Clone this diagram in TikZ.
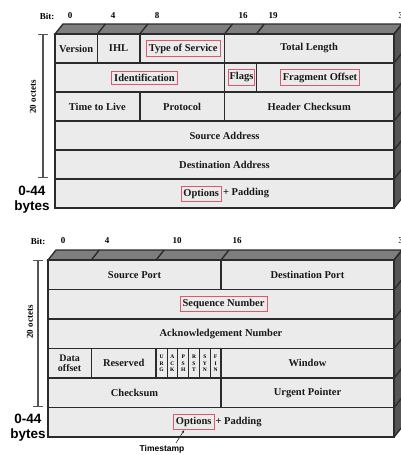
\documentclass[tikz,border=0pt]{standalone}
\usepackage{fontspec}
\setmainfont{Liberation Serif}
\newfontfamily\sansfam{Liberation Sans}
\usetikzlibrary{calc,arrows.meta}
\definecolor{cellfill}{HTML}{EBEBEB}
\definecolor{topface}{HTML}{7E7E7E}
\definecolor{sideface}{HTML}{555555}
\definecolor{edge}{HTML}{2B2B2B}
\definecolor{hlred}{HTML}{E0566A}
\begin{document}
\begin{tikzpicture}[x=1pt,y=-1pt,
  lbl/.style={font=\fontsize{10.5}{12}\selectfont\bfseries, inner sep=0pt, text=black!90},
  hl/.style={lbl, draw=hlred, line width=0.8pt, inner xsep=2.5pt, inner ysep=2.8pt},
  bitlbl/.style={font=\fontsize{9}{10}\selectfont\bfseries, inner sep=0pt},
  octlbl/.style={font=\fontsize{9}{10}\selectfont\bfseries, inner sep=0pt, rotate=90},
  sanslbl/.style={font=\sansfam\fontsize{13.5}{15}\selectfont\bfseries, inner sep=0pt, align=center},
  flaglbl/.style={font=\fontsize{5.5}{6.6}\selectfont\bfseries, inner sep=0pt, align=center},
  tslbl/.style={font=\sansfam\fontsize{8.5}{10}\selectfont\bfseries, inner sep=0pt},
  grid/.style={draw=edge, line width=1.4pt},
  thingrid/.style={draw=edge, line width=0.8pt},
  bar/.style={draw=edge!80, line width=1.2pt, {Bar[width=10pt]}-{Bar[width=10pt]}},
]
\useasboundingbox (0,0) rectangle (401,455);
\clip (0,0) rectangle (401,455);

% ================= IP header =================
\fill[cellfill] (55,34) rectangle (394,208);
\fill[topface] (55,34) -- (63,24) -- (402,24) -- (394,34) -- cycle;
\fill[sideface] (394,34) -- (402,24) -- (402,198) -- (394,208) -- cycle;
\draw[grid] (55,34) -- (63,24) -- (402,24) -- (394,34) -- cycle;
\draw[grid] (394,34) -- (402,24) -- (402,198) -- (394,208);
\foreach \xx in {97.4,139.8,224.5,256.3} \draw[grid] (\xx,34) -- ++(8,-10);
\draw[grid] (55,34) rectangle (394,208);
\foreach \yy in {63,92,121,150,179} {
  \draw[grid] (55,\yy) -- (394,\yy);
  \draw[grid] (394,\yy) -- ++(8,-10);
}
\foreach \xx in {97.4,139.8,224.5} \draw[grid] (\xx,34) -- (\xx,63);
\foreach \xx in {224.5,256.3} \draw[grid] (\xx,63) -- (\xx,92);
\foreach \xx in {139.8,224.5} \draw[grid] (\xx,92) -- (\xx,121);

\node[bitlbl] (b1bit) at (47,16) {Bit:};
\node[bitlbl] (b1b0) at (70,16) {0};
\node[bitlbl] (b1b4) at (113,16) {4};
\node[bitlbl] (b1b8) at (157,16) {8};
\node[bitlbl] (b1b16) at (243,16) {16};
\node[bitlbl] (b1b19) at (273,16) {19};
\node[bitlbl] (b1b32) at (403,16) {32};

\node[lbl] (ver) at (76.2,48.5) {Version};
\node[lbl] (ihl) at (118.6,48.5) {IHL};
\node[hl] (tos) at (183.2,48.5) {Type of Service};
\node[lbl] (tlen) at (309.2,48.5) {Total Length};
\node[hl] (ident) at (144.5,77.5) {Identification};
\node[hl, inner xsep=1.2pt] (flags) at (241.5,77.5) {Flags};
\node[hl] (frag) at (320,77.5) {Fragment Offset};
\node[lbl] (ttl) at (97.4,106.5) {Time to Live};
\node[lbl] (proto) at (182.1,106.5) {Protocol};
\node[lbl] (hcs) at (309.2,106.5) {Header Checksum};
\node[lbl] (saddr) at (224.5,135.5) {Source Address};
\node[lbl] (daddr) at (224.5,164.5) {Destination Address};
\node[hl, anchor=west] (opt1) at (180.5,193.5) {Options};
\node[lbl, anchor=west, inner xsep=1pt] (pad1) at (opt1.east) {+ Padding};

\draw[bar] (43,34) -- (43,178);
\node[octlbl] (oct1) at (33,97) {20 octets};
\node[sanslbl] (by1) at (32,199.5) {0-44\\bytes};

% ================= TCP header =================
\fill[cellfill] (48,260) rectangle (394,437);
\fill[topface] (48,260) -- (56,250) -- (402,250) -- (394,260) -- cycle;
\fill[sideface] (394,260) -- (402,250) -- (402,427) -- (394,437) -- cycle;
\draw[grid] (48,260) -- (56,250) -- (402,250) -- (394,260) -- cycle;
\draw[grid] (394,260) -- (402,250) -- (402,427) -- (394,437);
\foreach \xx in {91.25,156.1,221} \draw[grid] (\xx,260) -- ++(8,-10);
\draw[grid] (48,260) rectangle (394,437);
\foreach \yy in {289.5,319,348.5,378,407.5} {
  \draw[grid] (48,\yy) -- (394,\yy);
  \draw[grid] (394,\yy) -- ++(8,-10);
}
\draw[grid] (221,260) -- (221,289.5);
\foreach \xx in {91.25,156.1,221} \draw[grid] (\xx,348.5) -- (\xx,378);
\foreach \xx in {166.9,177.75,188.6,199.4,210.2} \draw[thingrid] (\xx,348.5) -- (\xx,378);
\draw[grid] (221,378) -- (221,407.5);

\node[bitlbl] (b2bit) at (38,241) {Bit:};
\node[bitlbl] (b2b0) at (63,241) {0};
\node[bitlbl] (b2b4) at (107,241) {4};
\node[bitlbl] (b2b10) at (177,241) {10};
\node[bitlbl] (b2b16) at (237,241) {16};
\node[bitlbl] (b2b32) at (403,241) {32};

\node[lbl] (sport) at (134.5,274.75) {Source Port};
\node[lbl] (dport) at (307.5,274.75) {Destination Port};
\node[hl] (seq) at (223.5,304.25) {Sequence Number};
\node[lbl] (ack) at (221,333.75) {Acknowledgement Number};
\node[lbl, align=center, font=\fontsize{10}{10.5}\selectfont\bfseries] (doff) at (69.6,363.25) {Data\\offset};
\node[lbl] (resv) at (123.7,363.25) {Reserved};
\node[flaglbl] (furg) at (161.5,363.25) {U\\R\\G};
\node[flaglbl] (fack) at (172.3,363.25) {A\\C\\K};
\node[flaglbl] (fpsh) at (183.2,363.25) {P\\S\\H};
\node[flaglbl] (frst) at (194,363.25) {R\\S\\T};
\node[flaglbl] (fsyn) at (204.8,363.25) {S\\Y\\N};
\node[flaglbl] (ffin) at (215.6,363.25) {F\\I\\N};
\node[lbl] (win) at (307.5,363.25) {Window};
\node[lbl] (csum) at (134.5,392.75) {Checksum};
\node[lbl] (urg) at (307.5,392.75) {Urgent Pointer};
\node[hl, anchor=west] (opt2) at (173,422.25) {Options};
\node[lbl, anchor=west, inner xsep=1pt] (pad2) at (opt2.east) {+ Padding};

\draw[bar] (38,260) -- (38,407);
\node[octlbl] (oct2) at (30,322) {20 octets};
\node[sanslbl] (by2) at (28,427.5) {0-44\\bytes};

\node[tslbl] (ts) at (162,449) {Timestamp};
\coordinate (tsfoot) at (176,443);
\draw[edge, line width=0.6pt, -{Stealth[length=3pt,width=2.5pt]}] (tsfoot) -- ($(opt2.south west)!0.27!(opt2.south east)$);
\end{tikzpicture}
\end{document}
